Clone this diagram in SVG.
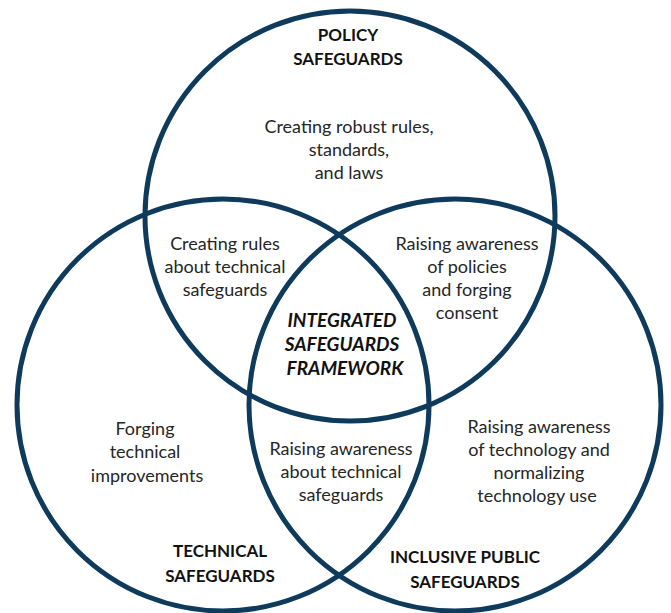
<svg xmlns="http://www.w3.org/2000/svg" width="671" height="613" viewBox="0 0 671 613">
  <style>
    .ring { fill: none; stroke: #0e3a5c; stroke-width: 5; }
    .body { font-family: Lato, "Open Sans", "Liberation Sans", sans-serif; font-size: 18px; fill: #262626; text-anchor: middle; }
    .title { font-family: Lato, "Open Sans", "Liberation Sans", sans-serif; font-size: 17px; font-weight: bold; fill: #111; text-anchor: middle; }
    .core { font-style: italic; font-size: 19px; }
  </style>
  <rect width="671" height="613" fill="#ffffff"/>

  <!-- Policy safeguards (top circle) -->
  <g id="policy">
    <circle class="ring" cx="350" cy="216" r="205"/>
    <text class="title" x="348" y="41">POLICY</text>
    <text class="title" x="348" y="65">SAFEGUARDS</text>
    <text class="body" x="349" y="133">Creating robust rules,</text>
    <text class="body" x="349" y="156">standards,</text>
    <text class="body" x="349" y="179">and laws</text>
  </g>

  <!-- Technical safeguards (left circle) -->
  <g id="technical">
    <circle class="ring" cx="223" cy="405" r="206"/>
    <text class="body" x="145" y="435">Forging</text>
    <text class="body" x="145" y="458">technical</text>
    <text class="body" x="147" y="482">improvements</text>
    <text class="title" x="220" y="557">TECHNICAL</text>
    <text class="title" x="220" y="582">SAFEGUARDS</text>
  </g>

  <!-- Inclusive public safeguards (right circle) -->
  <g id="public">
    <circle class="ring" cx="455" cy="405" r="206"/>
    <text class="body" x="539" y="433">Raising awareness</text>
    <text class="body" x="539" y="456">of technology and</text>
    <text class="body" x="539" y="479">normalizing</text>
    <text class="body" x="537" y="502">technology use</text>
    <text class="title" x="465" y="563">INCLUSIVE PUBLIC</text>
    <text class="title" x="465" y="588">SAFEGUARDS</text>
  </g>

  <!-- Policy + technical overlap -->
  <g id="policy-technical">
    <text class="body" x="225" y="250">Creating rules</text>
    <text class="body" x="225" y="273">about technical</text>
    <text class="body" x="225" y="296">safeguards</text>
  </g>

  <!-- Policy + public overlap -->
  <g id="policy-public">
    <text class="body" x="467" y="250">Raising awareness</text>
    <text class="body" x="467" y="273">of policies</text>
    <text class="body" x="467" y="296">and forging</text>
    <text class="body" x="467" y="319">consent</text>
  </g>

  <!-- Technical + public overlap -->
  <g id="technical-public">
    <text class="body" x="341" y="455">Raising awareness</text>
    <text class="body" x="341" y="478">about technical</text>
    <text class="body" x="341" y="501">safeguards</text>
  </g>

  <!-- Centre: all three -->
  <g id="framework">
    <text class="title core" x="342" y="327">INTEGRATED</text>
    <text class="title core" x="342" y="351">SAFEGUARDS</text>
    <text class="title core" x="345" y="375">FRAMEWORK</text>
  </g>
</svg>
